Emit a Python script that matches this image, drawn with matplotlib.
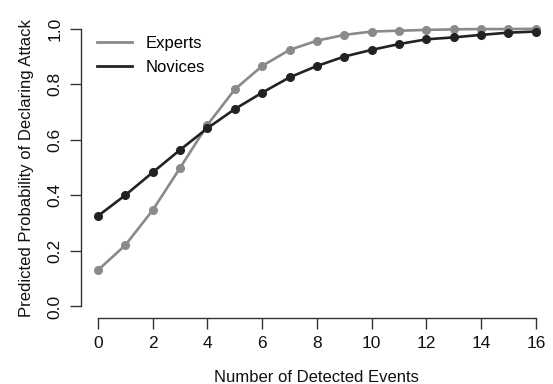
import numpy as np
import matplotlib
matplotlib.use('Agg')
from matplotlib import pyplot as plt

# data
events = list(range(17))
experts = [0.131, 0.221, 0.347, 0.499, 0.654, 0.782, 0.866, 0.924, 0.957, 0.978,
           0.990, 0.993, 0.996, 0.998, 0.999, 0.999, 1.000]
novices = [0.326, 0.401, 0.483, 0.564, 0.642, 0.711, 0.770, 0.825, 0.866, 0.900,
           0.924, 0.945, 0.962, 0.969, 0.978, 0.986, 0.990]
xticks = [0, 2, 4, 6, 8, 10, 12, 14, 16]
yticks = [0.0, 0.2, 0.4, 0.6, 0.8, 1.0]

# colours
grey_col = '#8a8a8a'
dark_col = '#222222'
axis_col = '#333333'

plt.rcParams['font.family'] = ['Liberation Sans', 'DejaVu Sans']

fig = plt.figure(figsize=(5.53, 3.84), dpi=100)
fig.patch.set_facecolor('white')
ax = fig.add_axes([0.1456, 0.173, 0.855, 0.781])

ax.plot(events, experts, color=grey_col, linewidth=1.9, marker='o', markersize=5.5, label='Experts')
ax.plot(events, novices, color=dark_col, linewidth=1.9, marker='o', markersize=5.5, label='Novices')

# R style detached axes
ax.set_xlim(-0.64, 16.64)
ax.set_ylim(-0.04, 1.04)
for s in ['top', 'right']:
    ax.spines[s].set_visible(False)
ax.spines['left'].set_bounds(0, 1)
ax.spines['bottom'].set_bounds(0, 16)
for s in ['left', 'bottom']:
    ax.spines[s].set_color(axis_col)
    ax.spines[s].set_linewidth(1.0)
ax.set_xticks(xticks)
ax.set_yticks(yticks)
ax.set_xticklabels([str(t) for t in xticks])
ax.set_yticklabels(['%.1f' % t for t in yticks], rotation=90, va='center')
ax.tick_params(length=8, width=1.0, color=axis_col, labelsize=12.5, labelcolor='#111111', pad=5)

ax.set_xlabel('Number of Detected Events', fontsize=12, color='#111111', labelpad=14)
ax.set_ylabel('Predicted Probability of Declaring Attack', fontsize=12, color='#111111', labelpad=10)

ax.legend(loc='upper left', bbox_to_anchor=(0.004, 0.99), frameon=False, fontsize=12,
          handlelength=2.1, handletextpad=0.8, labelspacing=0.55)
leg = ax.get_legend()
for h in leg.legend_handles:
    h.set_marker('')
    h.set_linewidth(2.0)

fig.savefig('out.png', dpi=100)
